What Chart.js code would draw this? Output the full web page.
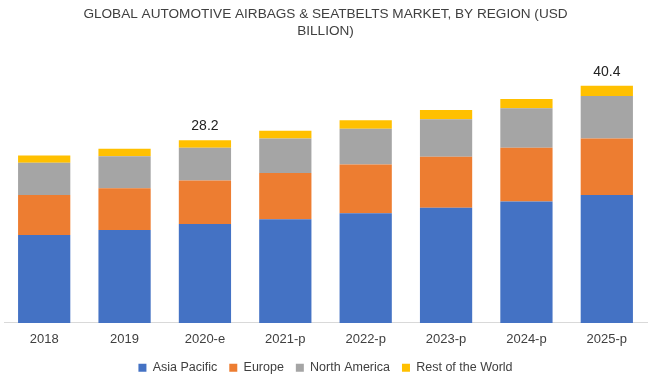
<!DOCTYPE html>
<html>
<head>
<meta charset="utf-8">
<script src="https://cdn.jsdelivr.net/npm/chart.js@4"></script>
<style>
html,body{margin:0;padding:0;background:#fff;}
#wrap{width:650px;height:380px;}
</style>
</head>
<body>
<div id="wrap"><canvas id="c" width="650" height="380"></canvas></div>
<script>
const categories = ["2018","2019","2020-e","2021-p","2022-p","2023-p","2024-p","2025-p"];
const asiaPacific = [14.5, 15.3, 16.3, 17.1, 18.1, 19.0, 20.0, 21.1];
const europe = [6.6, 6.9, 7.2, 7.6, 8.0, 8.4, 8.9, 9.3];
const northAmerica = [5.3, 5.3, 5.4, 5.7, 5.9, 6.2, 6.5, 7.0];
const restOfWorld = [1.2, 1.2, 1.2, 1.3, 1.4, 1.5, 1.5, 1.7];
const totalLabels = ["", "", "28.2", "", "", "", "", "40.4"];
const seriesNames = ["Asia Pacific","Europe","North America","Rest of the World"];
const titleLines = ["GLOBAL AUTOMOTIVE AIRBAGS & SEATBELTS MARKET, BY REGION (USD","BILLION)"];

const colors = ["#4472C4","#ED7D31","#A5A5A5","#FFC000"];
const txt = "#404040";
const fontFam = "'Liberation Sans',Arial,sans-serif";

const totalsPlugin = {
  id: 'totals',
  afterDatasetsDraw(chart) {
    const ctx = chart.ctx;
    const last = chart.getDatasetMeta(chart.data.datasets.length - 1);
    ctx.save();
    ctx.font = "14px " + fontFam;
    ctx.fillStyle = "#222";
    ctx.textAlign = "center";
    ctx.textBaseline = "bottom";
    last.data.forEach((bar, i) => {
      if (totalLabels[i]) ctx.fillText(totalLabels[i], bar.x, bar.y - 7);
    });
    ctx.restore();
  }
};

new Chart(document.getElementById('c'), {
  type: 'bar',
  data: {
    labels: categories,
    datasets: [asiaPacific, europe, northAmerica, restOfWorld].map((d, i) => ({
      label: seriesNames[i],
      data: d,
      backgroundColor: colors[i],
      borderWidth: 0,
      barPercentage: 0.65,
      categoryPercentage: 1.0
    }))
  },
  options: {
    responsive: false,
    animation: false,
    layout: { padding: { left: 4, right: 3, top: 0, bottom: -4 } },
    plugins: {
      title: {
        display: true,
        text: titleLines,
        color: txt,
        font: { family: fontFam, size: 13.6, weight: 'normal', lineHeight: 1.25 },
        padding: { top: 6, bottom: 10 }
      },
      legend: {
        position: 'bottom',
        labels: {
          boxWidth: 8, boxHeight: 8, color: txt,
          font: { family: fontFam, size: 12.5 },
          padding: 12
        }
      },
      tooltip: { enabled: false }
    },
    scales: {
      x: {
        stacked: true,
        grid: { display: false, drawTicks: false },
        border: { display: true, color: '#D9D9D9', width: 1 },
        ticks: { color: txt, font: { family: fontFam, size: 13 }, padding: 9 },
        afterFit(scale) { scale.height -= 7; }
      },
      y: {
        stacked: true,
        display: false,
        min: 0,
        max: 45
      }
    }
  },
  plugins: [totalsPlugin]
});
</script>
</body>
</html>
